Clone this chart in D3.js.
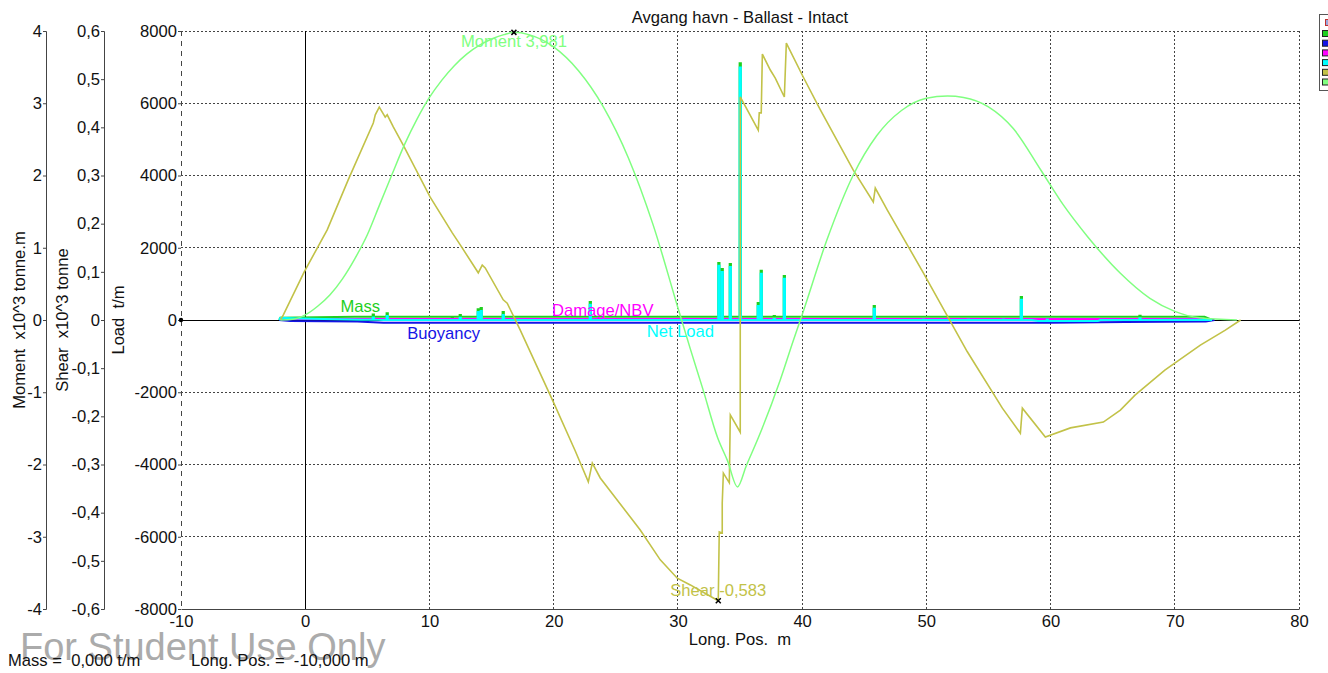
<!DOCTYPE html>
<html>
<head>
<meta charset="utf-8">
<script src="https://cdn.jsdelivr.net/npm/d3@7"></script>
<style>
  body { margin: 0; background: #fff; }
  svg { display: block; }
  text { font-family: "Liberation Sans", Arial, sans-serif; }
</style>
</head>
<body>
<svg id="chart" width="1328" height="673"></svg>
<script>
// ---- labels and ticks ----
const chartTitle = "Avgang havn - Ballast - Intact";
const xTicks = [-10, 0, 10, 20, 30, 40, 50, 60, 70, 80];
const loadTicks = [-8000, -6000, -4000, -2000, 0, 2000, 4000, 6000, 8000];
const shearTicks = [-0.6, -0.5, -0.4, -0.3, -0.2, -0.1, 0, 0.1, 0.2, 0.3, 0.4, 0.5, 0.6];
const momentTicks = [-4, -3, -2, -1, 0, 1, 2, 3, 4];

// ---- shear force, x10^3 tonne, along Long. Pos. (m) ----
const shearData = [
  [-2.01, 0], [-1.77, 0.010], [-0.08, 0.100], [1.77, 0.187], [3.46, 0.291],
  [5.48, 0.409], [5.64, 0.426], [5.96, 0.442], [6.44, 0.421], [6.60, 0.426],
  [7.09, 0.401], [7.89, 0.363], [10.06, 0.255], [11.84, 0.181], [12.48, 0.156],
  [13.93, 0.098], [14.25, 0.114], [14.49, 0.108], [15.94, 0.042], [16.26, 0.035],
  [17.31, -0.021], [19.97, -0.17], [21.74, -0.272], [22.79, -0.336], [23.11, -0.297],
  [23.75, -0.328], [26.97, -0.436], [28.58, -0.498], [29.95, -0.536], [31.0, -0.550],
  [33.25, -0.583], [33.33, -0.440], [33.57, -0.442], [33.57, -0.380], [33.66, -0.318],
  [34.14, -0.338], [34.22, -0.197], [35.02, -0.233], [35.02, 0.463], [36.47, 0.394],
  [36.55, 0.430], [36.71, 0.430], [36.80, 0.552], [37.44, 0.519], [37.84, 0.502],
  [38.57, 0.463], [38.73, 0.575], [40.1, 0.504], [41.47, 0.436], [44.12, 0.311],
  [45.73, 0.245], [45.89, 0.274], [46.86, 0.228], [49.76, 0.098], [53.3, -0.066],
  [56.12, -0.183], [57.57, -0.235], [57.73, -0.183], [59.58, -0.243], [61.6, -0.224],
  [64.25, -0.212], [65.62, -0.187], [66.8, -0.156], [69.2, -0.104], [72.06, -0.052],
  [74.07, -0.021], [75.3, 0]
];

// ---- bending moment, x10^3 tonne.m ----
const momentData = [
  [-2, 0], [-1, 0.01], [0, 0.07], [1, 0.19], [2, 0.35], [3, 0.57], [4, 0.85],
  [5, 1.18], [6, 1.6], [7, 2.02], [8, 2.43], [9, 2.78], [10, 3.08], [11, 3.32],
  [12, 3.52], [13, 3.68], [14, 3.80], [15, 3.89], [16, 3.95], [16.8, 3.981],
  [18, 3.95], [20, 3.78], [22, 3.45], [24, 2.95], [26, 2.25], [28, 1.32],
  [30, 0.17], [31, -0.4], [32, -0.95], [33.2, -1.63], [34, -1.95], [34.8, -2.31],
  [35.5, -2.02], [36.5, -1.62], [38.24, -0.83], [39.3, -0.28], [40, 0.07],
  [42, 1.11], [44.1, 2.0], [46, 2.55], [48, 2.9], [50, 3.07], [51.7, 3.10],
  [53, 3.08], [55, 2.95], [57, 2.65], [59.2, 2.08], [61, 1.6], [63, 1.15],
  [65.6, 0.65], [68, 0.3], [70, 0.12], [72, 0.03], [75, 0]
];

// ---- load distributions, t/m: base levels and point loads ----
const massBase = [[-2.1, 0], [-2.0, 60], [4.0, 90], [72.4, 90], [73.0, 0]];
const massSpikes = [
  [5.48, 150], [6.6, 190], [11.84, 80], [12.48, 140], [13.93, 300], [14.17, 330],
  [15.94, 220], [22.95, 500], [23.9, 90], [33.3, 1580], [33.57, 1410], [34.22, 1550],
  [35.02, 7110], [36.47, 470], [36.71, 1360], [37.76, 110], [38.57, 1220],
  [45.81, 390], [49.76, 90], [53.38, 90], [56.2, 90], [57.65, 640], [59.74, 90], [67.2, 120]
];
const damageBase = [[-1.8, 0], [-1.6, 30], [72.2, 30], [72.8, 0]];
const buoyancyBase = [[-2.1, 0], [-1.2, -25], [4.2, -40], [6.3, -75], [60.0, -75], [66.0, -55], [72.5, -40], [73.2, 0]];
const netBase = [[-2.1, 0], [-2.0, 60], [-0.5, 40], [4.5, 10], [6.3, 0], [58.5, 0], [59.0, -30], [63.8, -30], [64.0, 0], [72.5, 10], [73.0, 0]];
const netSpikes = [
  [5.48, 70], [6.6, 110], [11.84, 0], [12.48, 60], [13.93, 220], [14.17, 250],
  [15.94, 140], [22.95, 420], [23.9, 10], [33.3, 1500], [33.57, 1330], [34.22, 1470],
  [35.02, 6990], [36.47, 390], [36.71, 1280], [37.76, 30], [38.57, 1140],
  [45.81, 310], [49.76, 10], [53.38, 10], [56.2, 10], [57.65, 560], [59.74, 10], [67.2, 40]
];

// ---- series names and colours ----
const seriesNames = ["Mass", "Buoyancy", "Damage/NBV", "Net Load", "Shear", "Moment"];
const seriesColors = ["#1fcf1f", "#1414e6", "#ff00ff", "#00ffff", "#c2c248", "#80ff80"];

// ---- layout ----
const FS = 16.6;
const svg = d3.select("#chart");
const plotL = 181, plotR = 1299, plotT = 31, plotB = 609;
const x = d3.scaleLinear().domain([-10, 80]).range([plotL, plotR]);
const yLoad = d3.scaleLinear().domain([-8000, 8000]).range([plotB, plotT]);
const yShear = d3.scaleLinear().domain([-0.6, 0.6]).range([plotB, plotT]);
const yMoment = d3.scaleLinear().domain([-4, 4]).range([plotB, plotT]);
const comma = (v, n) => v.toFixed(n).replace(".", ",");

// title
svg.append("text").attr("x", 740).attr("y", 23).attr("text-anchor", "middle")
  .attr("font-size", FS).attr("fill", "#111").text(chartTitle);

// grid
const grid = svg.append("g");
grid.selectAll("line.h").data(loadTicks.filter(d => d !== 0 && d !== -8000)).join("line")
  .attr("x1", plotL).attr("x2", plotR).attr("y1", d => yLoad(d)).attr("y2", d => yLoad(d))
  .attr("stroke", "#444").attr("stroke-dasharray", "2,2").attr("shape-rendering", "crispEdges");
grid.selectAll("line.v").data(xTicks.filter(d => d !== 0)).join("line")
  .attr("x1", d => x(d)).attr("x2", d => x(d)).attr("y1", plotT).attr("y2", plotB)
  .attr("stroke", "#444").attr("stroke-dasharray", d => d === -10 ? "5,5" : "2,2")
  .attr("shape-rendering", "crispEdges");

// zero lines
svg.append("line").attr("x1", plotL).attr("x2", plotR).attr("y1", yLoad(0)).attr("y2", yLoad(0))
  .attr("stroke", "#000").attr("shape-rendering", "crispEdges");
svg.append("line").attr("x1", x(0)).attr("x2", x(0)).attr("y1", plotT).attr("y2", plotB)
  .attr("stroke", "#000").attr("shape-rendering", "crispEdges");

// bottom axis
const xAxis = svg.append("g").attr("transform", `translate(0,${plotB})`)
  .call(d3.axisBottom(x).tickValues(xTicks).tickSize(0).tickPadding(6).tickFormat(d => String(d)));
xAxis.select(".domain").attr("stroke", "#444");
xAxis.selectAll("text").attr("font-size", FS).attr("fill", "#111").style("font-family", '"Liberation Sans", Arial, sans-serif');
svg.append("text").attr("x", 740).attr("y", 645).attr("text-anchor", "middle")
  .attr("font-size", FS).attr("fill", "#111").style("white-space", "pre").text("Long. Pos.  m");

// left axes
function leftAxis(scale, ticks, xpos, fmt, showLine) {
  const g = svg.append("g").attr("transform", `translate(${xpos},0)`)
    .call(d3.axisLeft(scale).tickValues(ticks).tickSize(3).tickPadding(1).tickFormat(fmt));
  g.select(".domain").attr("stroke", showLine ? "#444" : "none");
  g.selectAll(".tick line").attr("stroke", "#444");
  g.selectAll("text").attr("font-size", FS).attr("fill", "#111").style("font-family", '"Liberation Sans", Arial, sans-serif');
  return g;
}
leftAxis(yMoment, momentTicks, 46, d => String(d), true);
leftAxis(yShear, shearTicks, 104, d => d === 0 ? "0" : comma(d, 1), true);
leftAxis(yLoad, loadTicks, plotL, d => String(d), false);

const axisTitles = [["Moment  x10^3 tonne.m", 25], ["Shear  x10^3 tonne", 68], ["Load  t/m", 124]];
axisTitles.forEach(([t, bx]) => {
  svg.append("text").attr("transform", `translate(${bx},320) rotate(-90)`)
    .attr("text-anchor", "middle").attr("font-size", FS).attr("fill", "#111")
    .style("white-space", "pre").text(t);
});

// load curves
function withSpikes(base, spikes, halfW) {
  const levelAt = sx => { let v = base[0][1]; base.forEach(d => { if (d[0] <= sx) v = d[1]; }); return v; };
  const pts = base.map(d => [d[0], d[1]]);
  spikes.forEach(([sx, sv]) => {
    const b = levelAt(sx);
    pts.push([sx - halfW, b], [sx - halfW, sv], [sx + halfW, sv], [sx + halfW, b]);
  });
  return pts.sort((a, b) => a[0] - b[0]);
}
const loadLine = d3.line().x(d => x(d[0])).y(d => yLoad(d[1]));
const loadSeries = [
  [withSpikes(massBase, massSpikes, 0.05), seriesColors[0]],
  [damageBase, seriesColors[2]],
  [buoyancyBase, seriesColors[1]],
  [withSpikes(netBase, netSpikes, 0.05), seriesColors[3]]
];
loadSeries.forEach(([pts, c]) => {
  svg.append("path").attr("d", loadLine(pts)).attr("fill", "none")
    .attr("stroke", c).attr("stroke-width", 2);
});

// shear & moment
svg.append("path").attr("d", d3.line().x(d => x(d[0])).y(d => yShear(d[1]))(shearData))
  .attr("fill", "none").attr("stroke", seriesColors[4]).attr("stroke-width", 1.6);
svg.append("path").attr("d", d3.line().curve(d3.curveMonotoneX).x(d => x(d[0])).y(d => yMoment(d[1]))(momentData))
  .attr("fill", "none").attr("stroke", seriesColors[5]).attr("stroke-width", 1.5);

// series labels on the load lines
const seriesLabels = [
  ["Mass", 4.43, -8, seriesColors[0]],
  ["Buoyancy", 11.15, 19, seriesColors[1]],
  ["Damage/NBV", 23.95, -4, seriesColors[2]],
  ["Net Load", 30.2, 17, seriesColors[3]]
];
seriesLabels.forEach(([t, lx, dy, c]) => {
  svg.append("text").attr("x", x(lx)).attr("y", yLoad(0) + dy).attr("text-anchor", "middle")
    .attr("font-size", FS).attr("fill", c).text(t);
});

// extreme markers
const mMax = momentData.reduce((a, b) => (b[1] > a[1] ? b : a));
const sMin = shearData.reduce((a, b) => (b[1] < a[1] ? b : a));
function cross(cx, cy) {
  svg.append("path").attr("d", `M${cx - 2.5},${cy - 2.5}L${cx + 2.5},${cy + 2.5}M${cx - 2.5},${cy + 2.5}L${cx + 2.5},${cy - 2.5}`)
    .attr("stroke", "#000").attr("stroke-width", 1.5);
}
cross(x(mMax[0]), yMoment(mMax[1]));
svg.append("text").attr("x", x(mMax[0])).attr("y", yMoment(mMax[1]) + 15).attr("text-anchor", "middle")
  .attr("font-size", FS).attr("fill", seriesColors[5]).text("Moment " + comma(mMax[1], 3));
cross(x(sMin[0]), yShear(sMin[1]));
svg.append("text").attr("x", x(sMin[0])).attr("y", yShear(sMin[1]) - 5).attr("text-anchor", "middle")
  .attr("font-size", FS).attr("fill", seriesColors[4]).text("Shear " + comma(sMin[1], 3));

// cursor point
svg.append("circle").attr("cx", x(-10)).attr("cy", yLoad(0)).attr("r", 2.2).attr("fill", "#000");

// legend box (clipped at the right edge)
const lg = svg.append("g");
lg.append("rect").attr("x", 1319.5).attr("y", 14.5).attr("width", 40).attr("height", 76)
  .attr("fill", "#fff").attr("stroke", "#555");
lg.append("rect").attr("x", 1325.5).attr("y", 19.5).attr("width", 6).attr("height", 6)
  .attr("fill", "#fff").attr("stroke", "#c03030");
lg.append("line").attr("x1", 1327).attr("x2", 1327).attr("y1", 20).attr("y2", 25).attr("stroke", "#3050c0");
lg.selectAll("rect.sw").data(seriesNames).join("rect")
  .attr("x", 1322.5).attr("y", (d, i) => 30.5 + i * 9.7).attr("width", 8).attr("height", 6)
  .attr("fill", (d, i) => seriesColors[i]).attr("stroke", "#222");

// watermark and status line
svg.append("text").attr("x", 20).attr("y", 660).attr("font-size", 38).attr("fill", "#ababab")
  .text("For Student Use Only");
svg.append("text").attr("x", 8).attr("y", 666).attr("font-size", FS).attr("fill", "#111")
  .style("white-space", "pre").text("Mass =  0,000 t/m");
svg.append("text").attr("x", 191).attr("y", 666).attr("font-size", FS).attr("fill", "#111")
  .style("white-space", "pre").text("Long. Pos. =  -10,000 m");
</script>
</body>
</html>
